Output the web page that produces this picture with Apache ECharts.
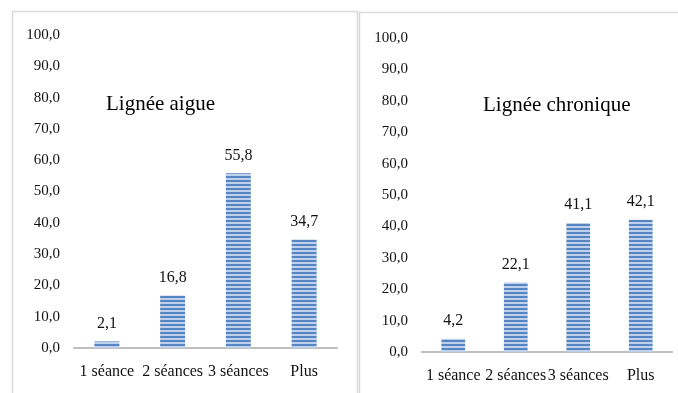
<!DOCTYPE html>
<html>
<head>
<meta charset="utf-8">
<script src="https://cdn.jsdelivr.net/npm/echarts@6/dist/echarts.min.js"></script>
<style>
  html, body { margin: 0; padding: 0; background: #ffffff; }
  #chart { width: 678px; height: 393px; }
</style>
</head>
<body>
<div id="chart"></div>
<script>
// Categories: number of sessions
const categories = ['1 séance', '2 séances', '3 séances', 'Plus'];
// Percentages per line
const aigueValues = [2.1, 16.8, 55.8, 34.7];
const chroniqueValues = [4.2, 22.1, 41.1, 42.1];
// Panel titles
const titleAigue = 'Lignée aigue';
const titleChronique = 'Lignée chronique';
// Y-axis range
const yMin = 0, yMax = 100, yStep = 10;

// Horizontal-stripe fill for the bars
function stripeCanvas() {
  const c = document.createElement('canvas');
  c.width = 4; c.height = 4;
  const ctx = c.getContext('2d');
  ctx.fillStyle = '#bed1ec';
  ctx.fillRect(0, 0, 4, 4);
  ctx.fillStyle = '#5886c2';
  ctx.fillRect(0, 0, 4, 2);
  return c;
}
const stripes = { image: stripeCanvas(), repeat: 'repeat' };

const fmt = v => Number(v).toFixed(1).replace('.', ',');
const font = '"Liberation Serif", "Times New Roman", serif';
const ink = '#111111';

function yAxis(idx) {
  return {
    type: 'value', gridIndex: idx, min: yMin, max: yMax, interval: yStep,
    axisLine: { show: false }, axisTick: { show: false },
    splitLine: { show: false },
    axisLabel: { formatter: fmt, fontFamily: font, fontSize: 15, color: ink, margin: 14 }
  };
}
function xAxis(idx) {
  return {
    type: 'category', gridIndex: idx, data: categories,
    axisLine: { lineStyle: { color: '#bfbfbf', width: 2 } },
    axisTick: { show: false },
    axisLabel: { fontFamily: font, fontSize: 16, color: ink, margin: 16, interval: 0 }
  };
}
function barSeries(idx, values) {
  return {
    type: 'bar', xAxisIndex: idx, yAxisIndex: idx, data: values,
    barWidth: '38%',
    itemStyle: { color: stripes },
    label: { show: true, position: 'top', distance: 10, formatter: p => fmt(p.value),
             fontFamily: font, fontSize: 16, color: ink }
  };
}

const chart = echarts.init(document.getElementById('chart'));
chart.setOption({
  animation: false,
  backgroundColor: '#ffffff',
  graphic: [
    { type: 'rect', shape: { x: 12.5, y: 11.5, width: 345, height: 420 }, style: { fill: 'none', stroke: '#d9d9d9', lineWidth: 1.5 }, silent: true },
    { type: 'rect', shape: { x: 359.5, y: 12.5, width: 340, height: 420 }, style: { fill: 'none', stroke: '#d9d9d9', lineWidth: 1.5 }, silent: true },
    { type: 'text', x: 106, y: 104, silent: true,
      style: { text: titleAigue, font: '21px "Liberation Serif", serif', fill: '#000000', verticalAlign: 'middle' } },
    { type: 'text', x: 483, y: 105, silent: true,
      style: { text: titleChronique, font: '21px "Liberation Serif", serif', fill: '#000000', verticalAlign: 'middle' } }
  ],
  grid: [
    { left: 74, right: 341, top: 35, bottom: 45 },
    { left: 422, right: 6, top: 38, bottom: 41 }
  ],
  xAxis: [xAxis(0), xAxis(1)],
  yAxis: [yAxis(0), yAxis(1)],
  series: [barSeries(0, aigueValues), barSeries(1, chroniqueValues)]
});
</script>
</body>
</html>
